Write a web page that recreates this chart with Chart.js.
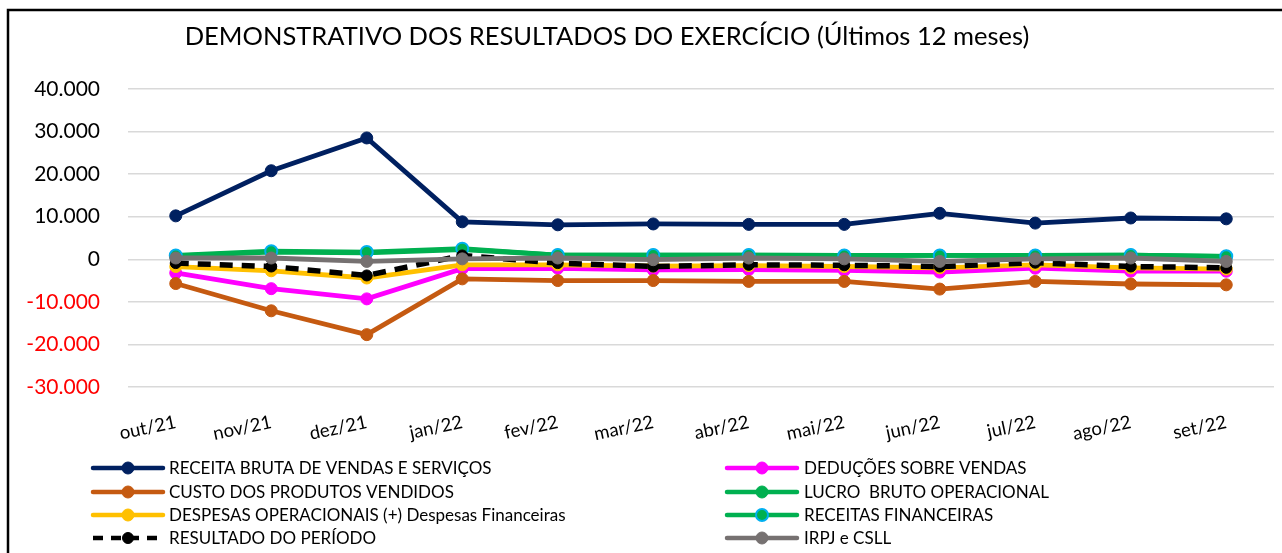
<!DOCTYPE html>
<html>
<head>
<meta charset="utf-8">
<script src="https://cdn.jsdelivr.net/npm/chart.js@4"></script>
<style>
  body { margin: 0; background: #fff; }
  #wrap { width: 1282px; height: 553px; position: relative; }
</style>
</head>
<body>
<div id="wrap"><canvas id="myChart"></canvas></div>
<script>
// Months on the x axis
const months = ["out/21", "nov/21", "dez/21", "jan/22", "fev/22", "mar/22",
                "abr/22", "mai/22", "jun/22", "jul/22", "ago/22", "set/22"];

// Series values
const receitaBruta = [10200, 20800, 28500, 8800, 8100, 8300, 8200, 8200, 10800, 8500, 9700, 9500];
const deducoes     = [-3200, -6900, -9300, -2200, -2100, -2500, -2400, -2600, -3000, -2100, -2800, -2800];
const custo        = [-5700, -12100, -17700, -4600, -5000, -5000, -5200, -5200, -7000, -5200, -5800, -6000];
const lucroBruto   = [800, 1700, 1500, 2300, 1000, 1000, 1000, 900, 900, 900, 1000, 700];
const despesas     = [-1700, -2700, -4400, -1300, -1300, -1600, -1500, -1700, -2000, -1300, -2000, -2300];
const receitasFin  = [900, 1900, 1700, 2500, 1000, 1000, 1000, 900, 900, 900, 1000, 700];
const resultado    = [-900, -1700, -3800, 900, -900, -1700, -1300, -1400, -1700, -800, -1700, -2000];
const irpj         = [300, 300, -500, 100, 300, -100, 300, 100, -500, 100, 300, -500];

// Y axis ticks
const yTicks = [-30000, -20000, -10000, 0, 10000, 20000, 30000, 40000];

const chartTitle = "DEMONSTRATIVO DOS RESULTADOS DO EXERCÍCIO (Últimos 12 meses)";
const FONT = "Lato, 'Open Sans', sans-serif";

function fmt(v) {
    let s = String(Math.abs(v)).replace(/\B(?=(\d{3})+(?!\d))/g, ".");
    return (v < 0 ? "-" : "") + s;
}

function series(label, data, color, idx, extra) {
    return Object.assign({
        label: label,
        data: data,
        borderColor: color,
        backgroundColor: color,
        pointBackgroundColor: color,
        pointBorderColor: color,
        borderWidth: 4.8,
        pointRadius: 6,
        pointHoverRadius: 6,
        pointBorderWidth: 1,
        tension: 0,
        order: 7 - idx,   // later series drawn on top, like the spreadsheet
        legendCol: idx % 2,
        legendRow: Math.floor(idx / 2)
    }, extra || {});
}

const datasets = [
    series("RECEITA BRUTA DE VENDAS E SERVIÇOS", receitaBruta, "#002060", 0),
    series("DEDUÇÕES SOBRE VENDAS", deducoes, "#FF00FF", 1),
    series("CUSTO DOS PRODUTOS VENDIDOS", custo, "#C55A11", 2),
    series("LUCRO  BRUTO OPERACIONAL", lucroBruto, "#00B050", 3),
    series("DESPESAS OPERACIONAIS (+) Despesas Financeiras", despesas, "#FFC000", 4),
    series("RECEITAS FINANCEIRAS", receitasFin, "#00B050", 5, { pointBorderColor: "#00B0F0", pointBorderWidth: 2 }),
    series("RESULTADO DO PERÍODO", resultado, "#000000", 6, { borderDash: [13, 9], borderWidth: 5.5, pointRadius: 5.5 }),
    series("IRPJ e CSLL", irpj, "#767171", 7)
];

// Frame, title and two-column legend drawn on the canvas
const decorations = {
    id: "decorations",
    beforeDraw(chart) {
        const ctx = chart.ctx;
        ctx.save();
        ctx.fillStyle = "#fff";
        ctx.fillRect(0, 0, chart.width, chart.height);
        ctx.strokeStyle = "#000";
        ctx.lineWidth = 2.5;
        ctx.strokeRect(8, 10, chart.width + 20, chart.height + 20);
        ctx.restore();
    },
    afterDraw(chart) {
        const ctx = chart.ctx;
        ctx.save();
        ctx.fillStyle = "#000";
        ctx.font = "25.5px " + FONT;
        ctx.textAlign = "center";
        ctx.textBaseline = "alphabetic";
        ctx.fillText(chartTitle, 607, 45);

        const cols = [{ x1: 93, x2: 163, tx: 169 }, { x1: 727, x2: 797, tx: 804 }];
        const rowY = [468, 492, 515, 538];
        ctx.font = "17px " + FONT;
        ctx.textAlign = "left";
        ctx.textBaseline = "middle";
        chart.data.datasets.forEach(ds => {
            const c = cols[ds.legendCol];
            const y = rowY[ds.legendRow];
            ctx.strokeStyle = ds.borderColor;
            ctx.lineWidth = 4.5;
            ctx.lineCap = ds.borderDash ? "butt" : "round";
            ctx.setLineDash(ds.borderDash ? [10, 8] : []);
            ctx.beginPath();
            ctx.moveTo(c.x1, y);
            ctx.lineTo(c.x2, y);
            ctx.stroke();
            ctx.setLineDash([]);
            ctx.beginPath();
            ctx.arc((c.x1 + c.x2) / 2, y, ds.pointRadius, 0, Math.PI * 2);
            ctx.fillStyle = ds.pointBackgroundColor;
            ctx.fill();
            ctx.lineWidth = ds.pointBorderWidth;
            ctx.strokeStyle = ds.pointBorderColor;
            ctx.stroke();
            ctx.fillStyle = "#000";
            ctx.fillText(ds.label, c.tx, y + 1);
        });
        ctx.restore();
    }
};

let ctx = document.getElementById("myChart").getContext("2d");
let myChart = new Chart(ctx, {
    type: "line",
    data: { labels: months, datasets: datasets },
    options: {
        responsive: true,
        maintainAspectRatio: false,
        animation: false,
        layout: { padding: { top: 89, right: 6, bottom: 0, left: 0 } },
        plugins: {
            legend: { display: false },
            title: { display: false },
            tooltip: { enabled: false }
        },
        scales: {
            x: {
                offset: true,
                grid: { display: false },
                border: { display: false },
                ticks: {
                    minRotation: 12,
                    maxRotation: 12,
                    padding: 16,
                    color: "#000",
                    font: { family: FONT, size: 18.5 }
                },
                afterFit: s => { s.height = 166; }
            },
            y: {
                min: -30000,
                max: 40000,
                afterBuildTicks: s => { s.ticks = yTicks.map(v => ({ value: v })); },
                grid: { color: "#d9d9d9", lineWidth: 1.5, drawTicks: false },
                border: { display: false },
                ticks: {
                    padding: 28,
                    color: c => (c.tick.value < 0 ? "#FF0000" : "#000"),
                    font: { family: FONT, size: 21 },
                    callback: v => fmt(v)
                },
                afterFit: s => { s.width = 128; }
            }
        }
    },
    plugins: [decorations]
});
</script>
</body>
</html>
